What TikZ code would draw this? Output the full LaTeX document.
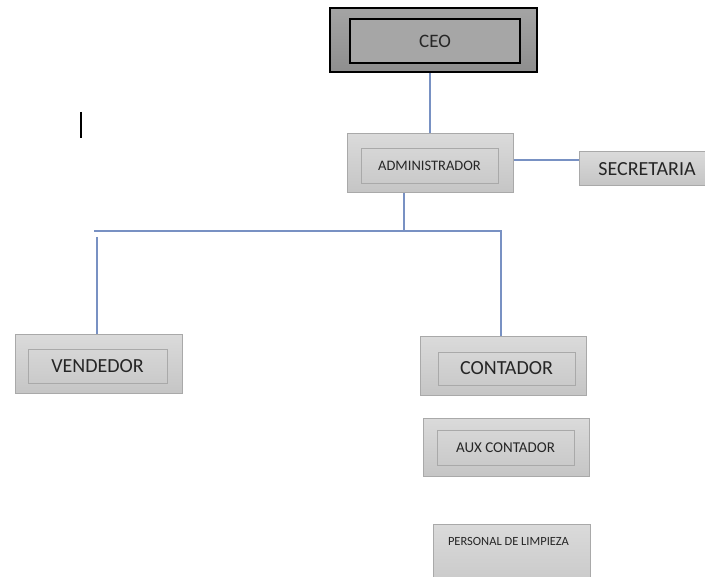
\documentclass[tikz,border=0pt]{standalone}
\usepackage{fontspec}
\setmainfont{Carlito}
\definecolor{boxline}{HTML}{A9A9A9}
\definecolor{boxtop}{HTML}{DADADA}
\definecolor{boxbot}{HTML}{C5C5C5}
\definecolor{intop}{HTML}{D6D6D6}
\definecolor{inbot}{HTML}{CACACA}
\definecolor{ceotop}{HTML}{A4A4A4}
\definecolor{ceobot}{HTML}{8E8E8E}
\definecolor{ceoin}{HTML}{A6A6A6}
\definecolor{linec}{RGB}{120,145,195}
\definecolor{txt}{HTML}{262626}
\tikzset{
  outerbox/.style={draw=boxline, line width=1pt, top color=boxtop, bottom color=boxbot, inner sep=0pt},
  innerbox/.style={draw=boxline, line width=0.8pt, top color=intop, bottom color=inbot, inner sep=0pt, text=txt},
  ceoouter/.style={draw=black, line width=1.6pt, top color=ceotop, bottom color=ceobot, inner sep=0pt},
  ceoinner/.style={draw=black, line width=1.2pt, fill=ceoin, inner sep=0pt, text=txt},
  conn/.style={draw=linec, line width=1.3pt},
  lbl/.style={inner sep=0pt, text=txt}
}
\begin{document}
\begin{tikzpicture}[x=1pt,y=-1pt]
\clip (0,0) rectangle (705,577);
\fill[white] (0,0) rectangle (705,577);
% CEO
\node[ceoouter, minimum width=207pt, minimum height=64pt] (ceo) at (433.5,40) {};
\node[ceoinner, minimum width=170pt, minimum height=44pt, font=\fontsize{19}{22}\selectfont] (ceot) at (435,41) {CEO};
% ADMINISTRADOR
\node[outerbox, minimum width=166pt, minimum height=59pt] (admin) at (430,163.5) {};
\node[innerbox, minimum width=137pt, minimum height=35pt, font=\fontsize{14.5}{17}\selectfont] (admint) at (429.5,165.5) {ADMINISTRADOR};
% SECRETARIA
\node[outerbox, minimum width=136pt, minimum height=34pt, text=txt, font=\fontsize{20}{24}\selectfont] (secre) at (647,169) {SECRETARIA};
% VENDEDOR
\node[outerbox, minimum width=167pt, minimum height=59pt] (vend) at (98.5,364.5) {};
\node[innerbox, minimum width=139pt, minimum height=34pt, font=\fontsize{20}{24}\selectfont] (vendt) at (97.5,366) {VENDEDOR};
% CONTADOR
\node[outerbox, minimum width=166pt, minimum height=59pt] (conta) at (503,366.5) {};
\node[innerbox, minimum width=137pt, minimum height=33pt, font=\fontsize{20}{24}\selectfont] (contat) at (506.5,368.5) {CONTADOR};
% AUX CONTADOR
\node[outerbox, minimum width=166pt, minimum height=58pt] (aux) at (506,448) {};
\node[innerbox, minimum width=137pt, minimum height=35pt, font=\fontsize{15}{18}\selectfont] (auxt) at (505.5,447.5) {AUX CONTADOR};
% PERSONAL DE LIMPIEZA
\node[outerbox, minimum width=157pt, minimum height=75pt] (perso) at (511.5,562.5) {};
\node[lbl, font=\fontsize{12.5}{15}\selectfont] (persot) at (508.5,541) {PERSONAL DE LIMPIEZA};
% connectors
\draw[conn] (admin.north) -- (admin.north |- ceo.south);
\draw[conn] ([yshift=3.5pt]admin.east) -- ([yshift=3.5pt]admin.east -| secre.west);
\coordinate (hub) at (404,231);
\coordinate (hl) at (94,231);
\coordinate (hr) at (501,231);
\coordinate (vl) at (97,237);
\draw[conn] (hub |- admin.south) -- (hub);
\draw[conn] (hl) -- (hr) -- (hr |- conta.north);
\draw[conn] (vl) -- (vl |- vend.north);
% text cursor
\coordinate (cur) at (81,112);
\draw[black, line width=1.4pt] (cur) -- ++(0,26);
\end{tikzpicture}
\end{document}
